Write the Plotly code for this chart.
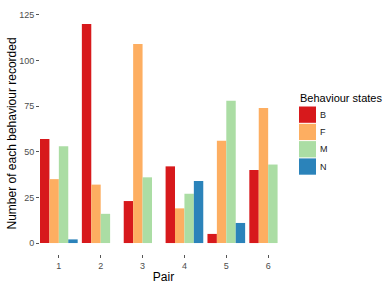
import plotly.graph_objects as go

pairs = ["1", "2", "3", "4", "5", "6"]
B = [57, 120, 23, 42, 5, 40]
F = [35, 32, 109, 19, 56, 74]
M = [53, 16, 36, 27, 78, 43]
N = [2, None, None, 34, 11, None]
states = ["B", "F", "M", "N"]
colors = ["#D7191C", "#FDAE61", "#ABDDA4", "#2B83BA"]
series = [B, F, M, N]

W, H = 386, 293
L, R, T, Bm = 40, 99, 13, 39
pw, ph = W - L - R, H - T - Bm

def px(x):
    return (x - L) / pw

def py(y):
    return (H - Bm - y) / ph

fig = go.Figure()
for name, vals, col in zip(states, series, colors):
    fig.add_trace(go.Bar(x=pairs, y=vals, name=name, showlegend=False,
                         marker=dict(color=col, line=dict(width=0))))

font = "Liberation Sans, Arial, sans-serif"

# legend (drawn as keys + labels)
shapes = []
annotations = [
    dict(text="Behaviour states", x=px(298), y=py(98), xref="paper", yref="paper",
         xanchor="left", yanchor="middle", showarrow=False,
         font=dict(size=11, color="black")),
    dict(text="Number of each behaviour recorded", x=px(11.5), y=py(134), xref="paper", yref="paper",
         xanchor="center", yanchor="middle", showarrow=False, textangle=-90,
         font=dict(size=12, color="black")),
]
key_top, key_h = 106, 17.3
for i, (name, col) in enumerate(zip(states, colors)):
    y0 = key_top + i * key_h
    shapes.append(dict(type="rect", xref="paper", yref="paper",
                       x0=px(299), x1=px(316), y0=py(y0 + 0.5), y1=py(y0 + key_h - 0.5),
                       fillcolor=col, line=dict(width=0)))
    annotations.append(dict(text=name, x=px(318), y=py(y0 + key_h / 2), xref="paper", yref="paper",
                            xanchor="left", yanchor="middle", showarrow=False,
                            font=dict(size=9, color="#222")))

fig.update_layout(
    width=W, height=H,
    margin=dict(l=L, r=R, t=T, b=Bm),
    barmode="group", bargap=0.1, bargroupgap=0,
    plot_bgcolor="white", paper_bgcolor="white",
    font=dict(family=font, color="black"),
    showlegend=False,
    shapes=shapes, annotations=annotations,
    xaxis=dict(title=dict(text="Pair", font=dict(size=12), standoff=2),
               automargin=False,
               range=[-0.45, 5.45], showgrid=False, zeroline=False, showline=False,
               ticks="outside", ticklen=3, tickcolor="#555", tickwidth=1,
               tickfont=dict(size=9, color="#4d4d4d")),
    yaxis=dict(automargin=False,
               range=[-6, 126], tickvals=[0, 25, 50, 75, 100, 125],
               showgrid=False, zeroline=False, showline=False,
               ticks="outside", ticklen=3, tickcolor="#555", tickwidth=1,
               tickfont=dict(size=9, color="#4d4d4d")),
)
fig.write_html("out.html")
